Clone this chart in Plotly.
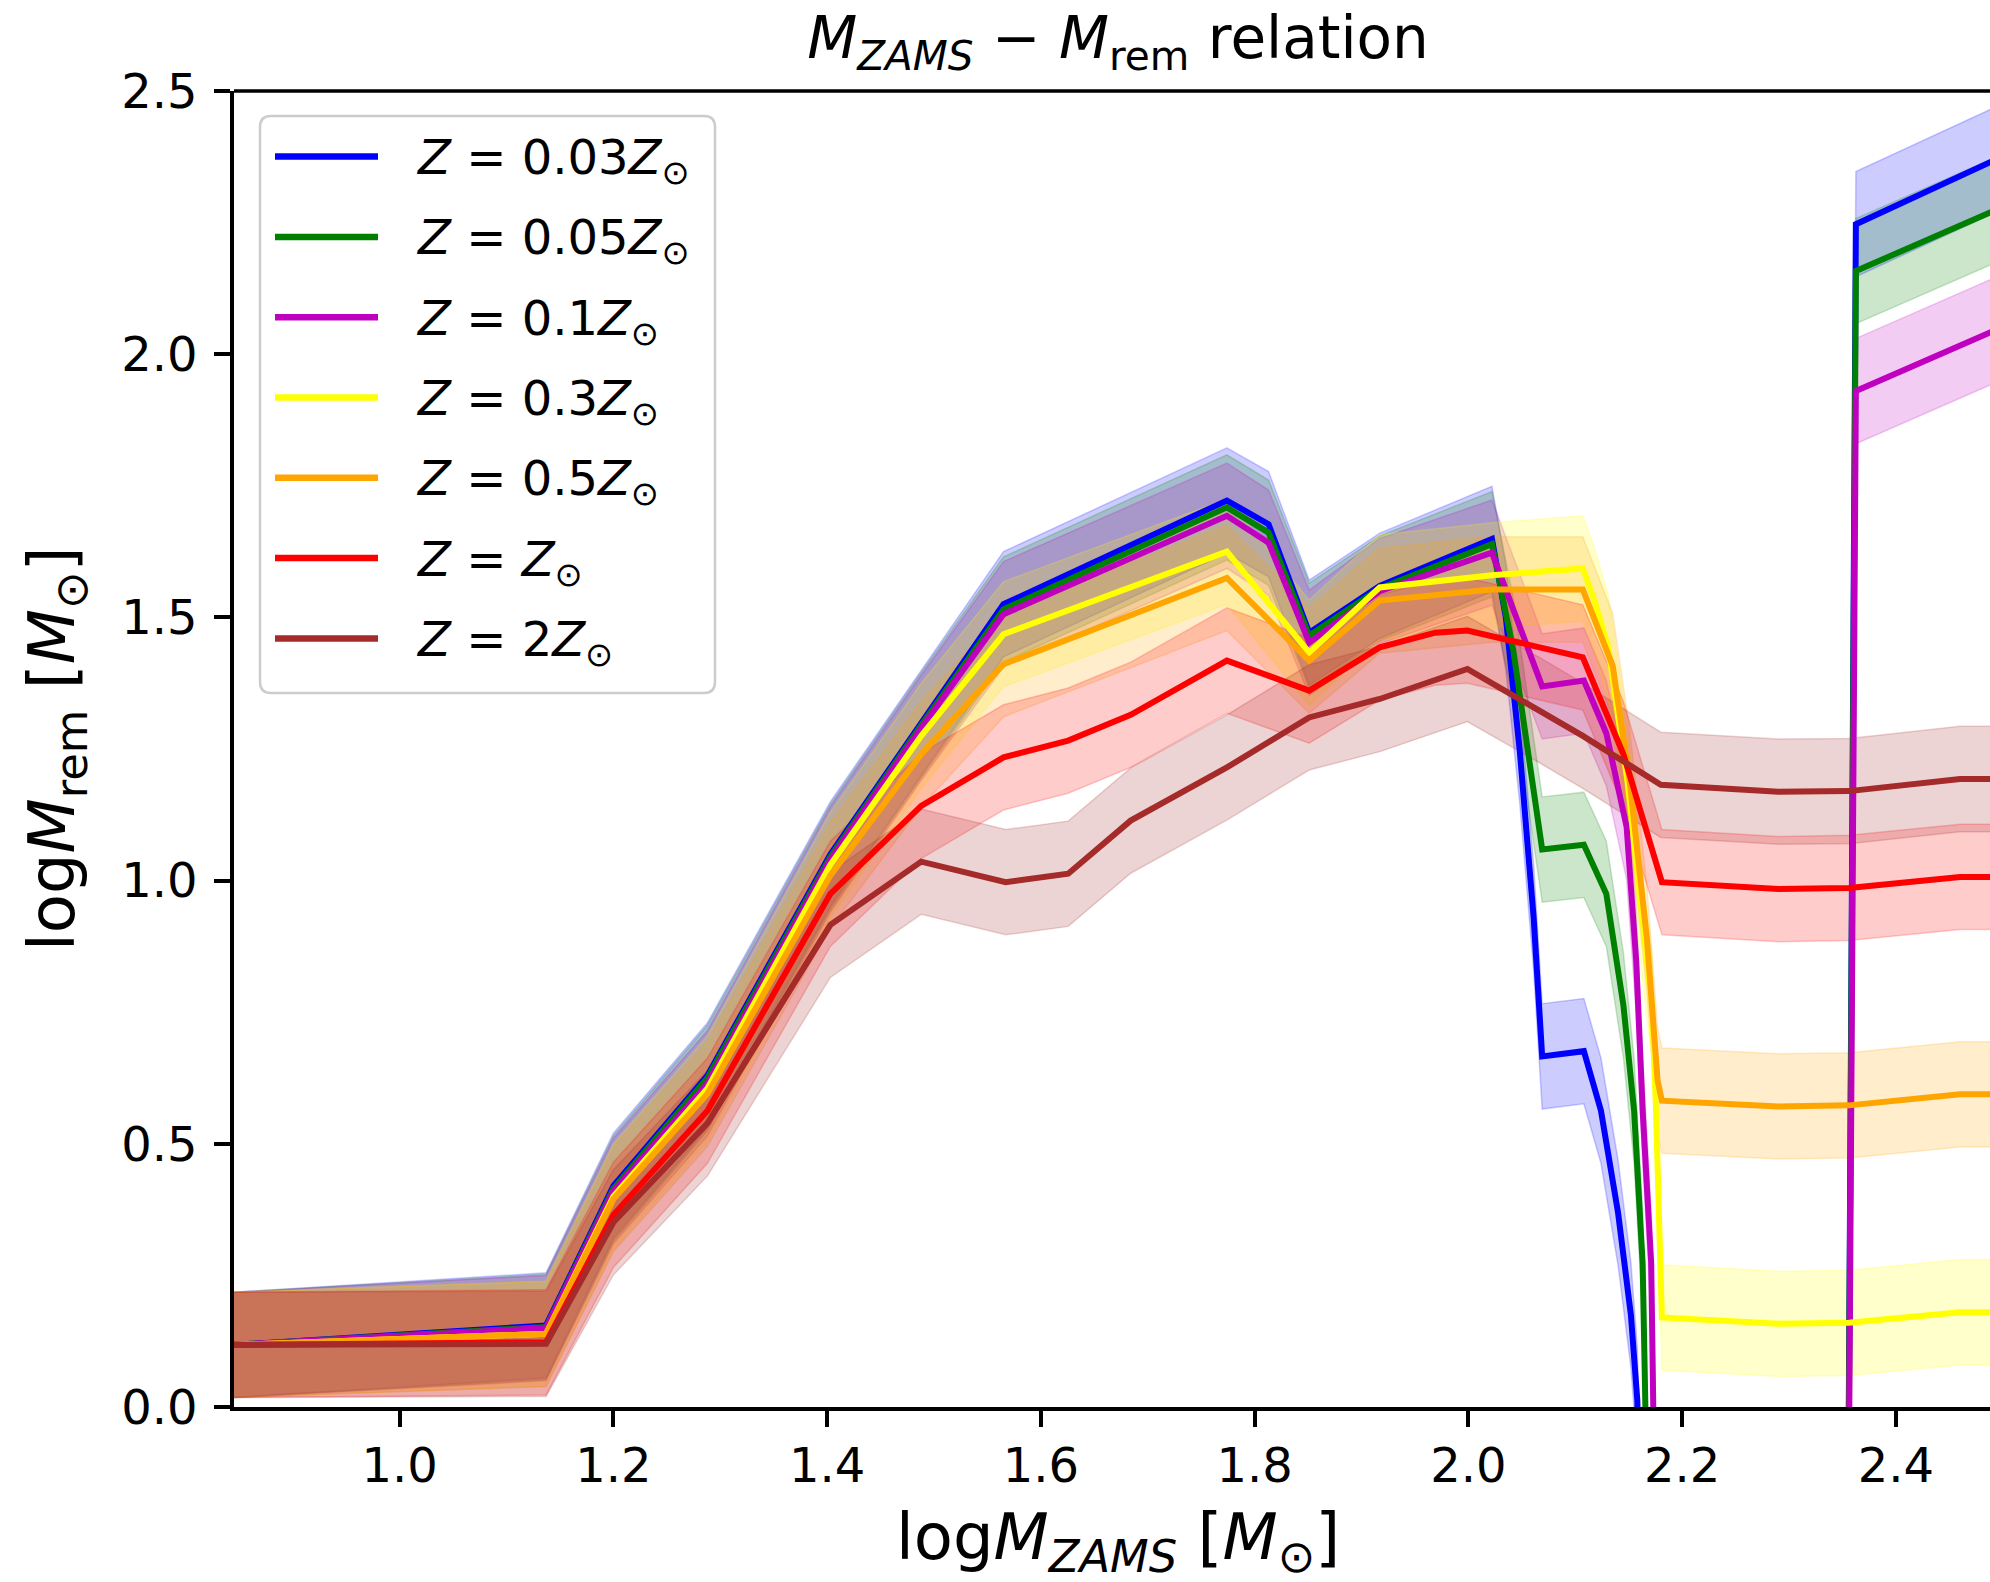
import plotly.graph_objects as go

# ---------------------------------------------------------------------------
# Remnant mass vs. ZAMS mass (both in log10 solar masses), one curve per
# metallicity.  Values below zero mark the pair-instability gap.
# ---------------------------------------------------------------------------
Z003_X = [0.845, 1.137, 1.200, 1.288, 1.403, 1.488, 1.565, 1.774, 1.813, 1.851, 1.917, 2.022,
          2.035, 2.048, 2.061, 2.069, 2.108, 2.124, 2.140, 2.152, 2.158, 2.170, 2.350, 2.3625, 2.500]
Z003_Y = [0.118, 0.155, 0.420, 0.630, 1.050, 1.300, 1.525, 1.722, 1.677, 1.471, 1.560, 1.649,
          1.500, 1.247, 0.930, 0.666, 0.676, 0.563, 0.369, 0.175, 0.013, -1.000, -2.000, 2.247, 2.376]

Z005_X = [0.845, 1.137, 1.200, 1.288, 1.403, 1.488, 1.565, 1.774, 1.813, 1.851, 1.917, 2.022,
          2.042, 2.069, 2.108, 2.129, 2.145, 2.155, 2.163, 2.166, 2.175, 2.350, 2.3625, 2.500]
Z005_Y = [0.118, 0.152, 0.415, 0.625, 1.045, 1.295, 1.515, 1.709, 1.661, 1.465, 1.555, 1.639,
          1.437, 1.059, 1.068, 0.975, 0.763, 0.563, 0.273, 0.013, -1.000, -2.000, 2.158, 2.280]

Z01_X = [0.845, 1.137, 1.200, 1.288, 1.403, 1.488, 1.565, 1.774, 1.813, 1.851, 1.917, 2.022,
         2.069, 2.108, 2.129, 2.148, 2.157, 2.163, 2.171, 2.174, 2.180, 2.350, 2.3625, 2.500]
Z01_Y = [0.118, 0.150, 0.410, 0.615, 1.040, 1.290, 1.506, 1.693, 1.642, 1.452, 1.550, 1.623,
         1.369, 1.380, 1.280, 1.102, 0.847, 0.563, 0.273, 0.013, -1.000, -2.000, 1.930, 2.052]

Z03_X = [0.845, 1.137, 1.200, 1.288, 1.403, 1.488, 1.565, 1.774, 1.851, 1.917, 2.022, 2.107,
         2.118, 2.131, 2.149, 2.164, 2.172, 2.1755, 2.181, 2.290, 2.356, 2.460, 2.500]
Z03_Y = [0.118, 0.139, 0.400, 0.605, 1.030, 1.275, 1.468, 1.625, 1.433, 1.557, 1.580, 1.593,
         1.532, 1.441, 1.186, 0.890, 0.757, 0.563, 0.170, 0.158, 0.160, 0.180, 0.180]

Z05_X = [0.845, 1.137, 1.200, 1.288, 1.403, 1.488, 1.565, 1.774, 1.851, 1.917, 2.022, 2.107,
         2.135, 2.151, 2.167, 2.177, 2.181, 2.290, 2.356, 2.460, 2.500]
Z05_Y = [0.118, 0.139, 0.395, 0.595, 1.010, 1.240, 1.411, 1.575, 1.418, 1.532, 1.553, 1.553,
         1.408, 1.186, 0.890, 0.620, 0.582, 0.571, 0.573, 0.594, 0.594]

Z1_X = [0.845, 1.137, 1.200, 1.288, 1.403, 1.488, 1.565, 1.6255, 1.684, 1.774, 1.851, 1.917,
        1.969, 1.999, 2.107, 2.145, 2.181, 2.290, 2.356, 2.460, 2.500]
Z1_Y = [0.118, 0.123, 0.365, 0.563, 0.975, 1.142, 1.234, 1.266, 1.315, 1.418, 1.361, 1.443,
        1.471, 1.475, 1.424, 1.240, 0.997, 0.984, 0.986, 1.007, 1.007]

Z2_X = [0.845, 1.137, 1.200, 1.288, 1.403, 1.488, 1.567, 1.6255, 1.684, 1.774, 1.851, 1.917,
        1.999, 2.068, 2.107, 2.180, 2.290, 2.356, 2.460, 2.500]
Z2_Y = [0.118, 0.120, 0.351, 0.539, 0.916, 1.036, 0.997, 1.013, 1.114, 1.215, 1.310, 1.345,
        1.402, 1.322, 1.275, 1.182, 1.169, 1.170, 1.193, 1.193]

# half-width of the shaded uncertainty band (dex)
BAND_HALF = 0.1

LABELS = [
    "<i>Z</i> = 0.03<i>Z</i><sub>⊙</sub>",
    "<i>Z</i> = 0.05<i>Z</i><sub>⊙</sub>",
    "<i>Z</i> = 0.1<i>Z</i><sub>⊙</sub>",
    "<i>Z</i> = 0.3<i>Z</i><sub>⊙</sub>",
    "<i>Z</i> = 0.5<i>Z</i><sub>⊙</sub>",
    "<i>Z</i> = <i>Z</i><sub>⊙</sub>",
    "<i>Z</i> = 2<i>Z</i><sub>⊙</sub>",
]
COLORS = [(0, 0, 255), (0, 128, 0), (191, 0, 191), (255, 255, 0),
          (255, 165, 0), (255, 0, 0), (165, 42, 42)]

X_TICKS = [1.0, 1.2, 1.4, 1.6, 1.8, 2.0, 2.2, 2.4]
X_TICKTEXT = ["1.0", "1.2", "1.4", "1.6", "1.8", "2.0", "2.2", "2.4"]
Y_TICKS = [0.0, 0.5, 1.0, 1.5, 2.0, 2.5]
Y_TICKTEXT = ["0.0", "0.5", "1.0", "1.5", "2.0", "2.5"]

TITLE = "<i>M</i><sub><i>ZAMS</i></sub> − <i>M</i><sub>rem</sub> relation"
X_LABEL = "log<i>M</i><sub><i>ZAMS</i></sub> [<i>M</i><sub>⊙</sub>]"
Y_LABEL = "log<i>M</i><sub>rem</sub> [<i>M</i><sub>⊙</sub>]"

SERIES = [(Z003_X, Z003_Y), (Z005_X, Z005_Y), (Z01_X, Z01_Y), (Z03_X, Z03_Y),
          (Z05_X, Z05_Y), (Z1_X, Z1_Y), (Z2_X, Z2_Y)]

# ---------------------------------------------------------------------------
# page geometry (pixels)
# ---------------------------------------------------------------------------
W, H = 1990, 1582
ML, MR, MT, MB = 234, 0, 91, 175
PW, PH = W - ML - MR, H - MT - MB
FONT = "DejaVu Sans"


def paper_x(px):
    return (px - ML) / PW


def paper_y(py):
    return (H - MB - py) / PH


def rgba(c, a):
    return "rgba(%d,%d,%d,%.3f)" % (c[0], c[1], c[2], a)


fig = go.Figure()

# shaded bands first so that every curve sits on top of every band
for (xs, ys), col in zip(SERIES, COLORS):
    upper = [y + BAND_HALF for y in ys]
    lower = [y - BAND_HALF for y in ys]
    fig.add_trace(go.Scatter(
        x=xs + xs[::-1], y=upper + lower[::-1],
        mode="lines", fill="toself", fillcolor=rgba(col, 0.2),
        line=dict(color=rgba(col, 0.2), width=1.5),
        hoverinfo="skip", showlegend=False,
    ))

for (xs, ys), col, lab in zip(SERIES, COLORS, LABELS):
    fig.add_trace(go.Scatter(
        x=xs, y=ys, mode="lines", name=lab,
        line=dict(color=rgba(col, 1), width=6),
        showlegend=False,
    ))

# ---------------------------------------------------------------------------
# legend box drawn by hand (long sample lines, rounded frame)
# ---------------------------------------------------------------------------
LEG_X0, LEG_X1, LEG_Y0, LEG_Y1, LEG_R = 260, 715, 116, 693, 11
LEG_ROW0, LEG_ROW_STEP = 156.6, 80.3
LEG_LINE_X0, LEG_LINE_X1, LEG_TEXT_X = 275, 378, 414

rx, ry = LEG_R / PW, LEG_R / PH
x0, x1 = paper_x(LEG_X0), paper_x(LEG_X1)
y0, y1 = paper_y(LEG_Y0), paper_y(LEG_Y1)
frame = (f"M {x0 + rx},{y0} L {x1 - rx},{y0} Q {x1},{y0} {x1},{y0 - ry} "
         f"L {x1},{y1 + ry} Q {x1},{y1} {x1 - rx},{y1} L {x0 + rx},{y1} "
         f"Q {x0},{y1} {x0},{y1 + ry} L {x0},{y0 - ry} Q {x0},{y0} {x0 + rx},{y0} Z")

shapes = [
    # top spine
    dict(type="line", xref="paper", yref="paper", x0=0, x1=1, y0=1, y1=1,
         line=dict(color="black", width=3.5)),
    dict(type="path", xref="paper", yref="paper", path=frame,
         fillcolor="rgba(255,255,255,0.8)", line=dict(color="#cccccc", width=2.5)),
]
annotations = []
for i, (col, lab) in enumerate(zip(COLORS, LABELS)):
    yy = paper_y(LEG_ROW0 + i * LEG_ROW_STEP)
    shapes.append(dict(type="line", xref="paper", yref="paper",
                       x0=paper_x(LEG_LINE_X0), x1=paper_x(LEG_LINE_X1), y0=yy, y1=yy,
                       line=dict(color=rgba(col, 1), width=6.5)))
    annotations.append(dict(xref="paper", yref="paper", x=paper_x(LEG_TEXT_X),
                            y=paper_y(LEG_ROW0 + i * LEG_ROW_STEP + 4),
                            xanchor="left", yanchor="middle", showarrow=False,
                            text=lab, font=dict(family=FONT, size=48, color="black")))

# axis titles
annotations.append(dict(xref="paper", yref="paper", x=paper_x(1118), y=paper_y(1498),
                        xanchor="center", yanchor="top", showarrow=False, text=X_LABEL,
                        font=dict(family=FONT, size=64, color="black")))
annotations.append(dict(xref="paper", yref="paper", x=paper_x(56), y=paper_y(749),
                        xanchor="center", yanchor="middle", showarrow=False, text=Y_LABEL,
                        textangle=-90, font=dict(family=FONT, size=64, color="black")))

axis_common = dict(
    showgrid=False, zeroline=False, showline=True, linecolor="black", linewidth=3.5,
    ticks="outside", ticklen=16, tickwidth=3.5, tickcolor="black",
    tickfont=dict(family=FONT, size=48, color="black"),
)

fig.update_layout(
    width=W, height=H,
    margin=dict(l=ML, r=MR, t=MT, b=MB, pad=0),
    paper_bgcolor="white", plot_bgcolor="white",
    font=dict(family=FONT, color="black"),
    title=dict(text=TITLE, x=1118 / W, xref="container",
               xanchor="center", y=1 - 38 / H, yref="container", yanchor="middle",
               font=dict(family=FONT, size=58, color="black")),
    xaxis=dict(range=[0.845, 2.488], tickvals=X_TICKS, ticktext=X_TICKTEXT,
               ticklabelstandoff=-2, **axis_common),
    yaxis=dict(range=[0.0, 2.5], tickvals=Y_TICKS, ticktext=Y_TICKTEXT,
               ticklabelstandoff=7, **axis_common),
    shapes=shapes,
    annotations=annotations,
    showlegend=False,
)

fig.write_html("out.html", config={"displayModeBar": False})
